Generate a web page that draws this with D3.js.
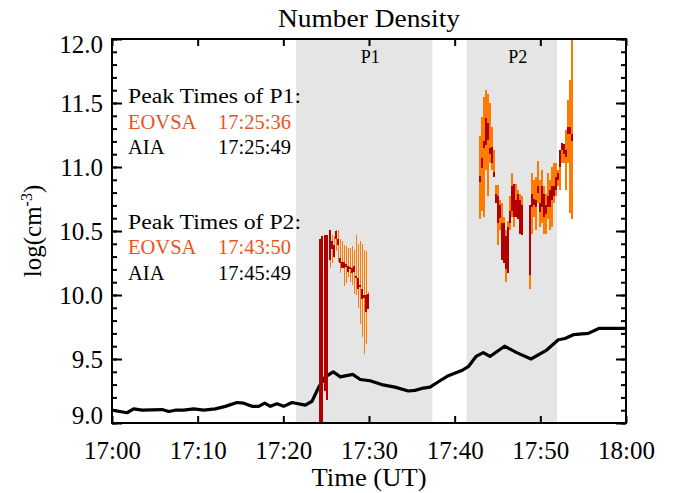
<!DOCTYPE html>
<html>
<head>
<meta charset="utf-8">
<script src="https://cdn.jsdelivr.net/npm/d3@7"></script>
<style>
  body { margin: 0; background: #fff; }
  svg { display: block; }
  text { font-family: "Liberation Serif", "Times New Roman", serif; fill: #000; }
</style>
</head>
<body>
<div id="chart"></div>
<script>
// minutes after 17:00 UT
const aiaMin = [0, 1.75, 2.53, 3.5, 5.84, 6.62, 7.39, 8.37, 9.54, 10.7, 12.06, 13.23, 14.59,
  15.37, 16.34, 17.12, 17.82, 18.48, 19.26, 20.04, 21.01, 22.56, 23.35, 24.13, 24.9, 25.82,
  26.65, 28.1, 28.98, 30.12, 31.48, 33.03, 34.59, 35.37, 36.15, 37.12, 38.29, 39.26, 40.82,
  41.59, 42.49, 43.34, 44.12, 45.82, 47.24, 48.91, 50.74, 52.1, 52.88, 53.85, 55.6, 56.88, 60];
const aiaLogN = [9.10, 9.08, 9.11, 9.10, 9.105, 9.09, 9.10, 9.10, 9.11, 9.10, 9.11, 9.13, 9.16,
  9.155, 9.13, 9.13, 9.155, 9.13, 9.15, 9.13, 9.16, 9.14, 9.17, 9.28, 9.36, 9.40,
  9.36, 9.38, 9.34, 9.33, 9.30, 9.28, 9.25, 9.255, 9.27, 9.28, 9.33, 9.37, 9.41,
  9.44, 9.52, 9.55, 9.52, 9.60, 9.55, 9.50, 9.57, 9.65, 9.66, 9.69, 9.70, 9.74, 9.74];

const eovsaMin = [24.32, 24.55, 24.86, 25.10, 25.49, 25.72, 25.95, 26.19, 26.42, 26.65, 26.89,
  27.12, 27.35, 27.59, 27.82, 28.05, 28.29, 28.52, 28.75, 28.99, 29.22, 29.45, 29.69, 29.92,
  42.96, 43.19, 43.42, 43.66, 43.89, 44.12, 44.36, 44.59, 44.82, 45.06, 45.29, 45.52, 45.76,
  45.99, 46.22, 46.46, 46.69, 46.92, 47.16, 47.39, 47.62, 47.86,
  48.79, 49.02, 49.26, 49.49, 49.72, 49.96, 50.19, 50.42, 50.66, 50.89, 51.13, 51.36, 51.59,
  51.83, 52.06, 52.29, 52.53, 52.76, 52.99, 53.23, 53.46, 53.69];
// outer range (orange)
const eovsaHi = [10.00, 10.05, 10.12, 10.10, 10.45, 10.47, 10.46, 10.51, 10.51, 10.44, 10.42,
  10.39, 10.38, 10.37, 10.37, 10.38, 10.35, 10.47, 10.40, 10.42, 10.40, 10.35, 10.34, 10.02,
  11.24, 11.39, 11.55, 11.60, 11.57, 11.50, 11.31, 11.13, 10.86, 10.86, 10.74, 10.72, 10.61,
  10.51, 10.58, 10.77, 10.95, 10.79, 10.87, 10.82, 10.79, 10.77,
  10.30, 10.95, 10.90, 10.92, 11.05, 10.90, 10.98, 10.85, 10.79, 10.95, 10.90, 11.00, 11.03,
  11.03, 10.98, 11.08, 11.16, 11.16, 11.29, 11.52, 11.68, 12.05];
const eovsaLo = [9.90, 9.95, 10.08, 10.05, 10.21, 10.25, 10.29, 10.34, 10.26, 10.17, 10.21,
  10.07, 10.09, 10.14, 10.10, 10.08, 10.01, 10.00, 9.90, 9.77, 9.67, 9.54, 9.62, 9.93,
  10.59, 10.66, 10.61, 10.98, 10.77, 11.03, 10.98, 10.95, 10.72, 10.39, 10.51, 10.46, 10.38,
  10.10, 10.30, 10.51, 10.61, 10.53, 10.66, 10.64, 10.64, 10.61,
  10.05, 10.48, 10.61, 10.51, 10.72, 10.53, 10.56, 10.48, 10.48, 10.59, 10.51, 10.53, 10.72,
  10.77, 10.85, 10.82, 11.03, 11.03, 10.82, 11.03, 10.64, 10.59];
// inner range (dark red)
const coreHi = [10.44, 10.46, 10.47, 10.47, 10.51, 10.42, 10.39, 10.50, 10.44, 10.29, 10.26,
  10.26, 10.24, 10.23, 10.22, 10.21, 10.23, 10.15, 10.13, 10.08, 10.05, 10.00, 10.00, 10.01,
  10.93, 11.07, 11.20, 11.38, 11.34, 11.15, 11.16, 10.96, 10.79, 10.77, 10.70, 10.56, 10.56,
  10.46, 10.53, 10.66, 10.85, 10.87, 10.74, 10.79, 10.74, 10.70,
  10.70, 10.79, 10.75, 10.74, 10.85, 10.72, 10.85, 10.79, 10.70, 10.77, 10.82, 10.85, 10.85,
  10.92, 10.95, 11.13, 11.19, 11.18, 11.13, 11.31, 11.31, 11.26];
const coreLo = [8.98, 9.00, 9.25, 9.18, 10.27, 10.36, 10.30, 10.44, 10.39, 10.25, 10.21,
  10.21, 10.22, 10.18, 10.20, 10.17, 10.18, 10.13, 10.05, 10.06, 9.97, 9.98, 9.87, 9.89,
  10.88, 10.99, 11.15, 11.17, 11.21, 11.10, 11.03, 10.92, 10.72, 10.56, 10.60, 10.27, 10.25,
  10.20, 10.17, 10.56, 10.66, 10.61, 10.61, 10.59, 10.48, 10.47,
  10.16, 10.69, 10.70, 10.69, 10.80, 10.65, 10.69, 10.61, 10.63, 10.69, 10.69, 10.74, 10.77,
  10.82, 10.90, 11.00, 11.13, 11.10, 11.08, 11.26, 11.26, 11.20];

const periodNames = ['P1', 'P2'];
const periodStart = [21.5, 41.4];
const periodEnd = [37.4, 51.95];

const peakTitles = ['Peak Times of P1:', 'Peak Times of P2:'];
const eovsaPeaks = ['17:25:36', '17:43:50'];
const aiaPeaks = ['17:25:49', '17:45:49'];

const W = 673, H = 493;
const plotL = 112, plotR = 626, plotT = 39, plotB = 423;
const orange = '#ff7a00', darkRed = '#b00000', labelOrange = '#e8541c';

const t0 = Date.UTC(2017, 8, 10, 17, 0, 0);
let toDate = function(m) {
  return new Date(t0 + m * 60000);
};

const x = d3.scaleUtc()
  .domain([toDate(0), toDate(60)])
  .range([plotL, plotR]);
const y = d3.scaleLinear()
  .domain([9, 12])
  .range([plotB, plotT]);

const svg = d3.select('#chart').append('svg')
  .attr('width', W)
  .attr('height', H);

svg.append('clipPath').attr('id', 'plotClip')
  .append('rect')
  .attr('x', plotL).attr('y', plotT)
  .attr('width', plotR - plotL).attr('height', plotB - plotT);

// shaded periods
svg.selectAll('rect.period')
  .data(periodNames)
  .enter()
  .append('rect')
  .attr('class', 'period')
  .attr('x', function(d, i) { return x(toDate(periodStart[i])); })
  .attr('y', plotT)
  .attr('width', function(d, i) {
    return x(toDate(periodEnd[i])) - x(toDate(periodStart[i]));
  })
  .attr('height', plotB - plotT)
  .style('fill', '#e5e5e5');

// labels sit a little right of the band centre
svg.selectAll('text.period')
  .data(periodNames)
  .enter()
  .append('text')
  .attr('class', 'period')
  .attr('x', function(d, i) {
    return (x(toDate(periodStart[i])) + x(toDate(periodEnd[i]))) / 2 + 6;
  })
  .attr('y', 63)
  .attr('text-anchor', 'middle')
  .style('font-size', '18px')
  .text(function(d) { return d; });

const plot = svg.append('g').attr('clip-path', 'url(#plotClip)');

// AIA curve
const aia = aiaMin.map(function(m, i) { return {t: toDate(m), v: aiaLogN[i]}; });
plot.append('path')
  .datum(aia)
  .attr('d', d3.line()
    .x(function(d) { return x(d.t); })
    .y(function(d) { return y(d.v); }))
  .style('fill', 'none')
  .style('stroke', '#000')
  .style('stroke-width', 3.2)
  .style('stroke-linejoin', 'round');

// EOVSA ranges
const eovsa = eovsaMin.map(function(m, i) {
  return {t: toDate(m), hi: eovsaHi[i], lo: eovsaLo[i], cHi: coreHi[i], cLo: coreLo[i]};
});
plot.selectAll('line.outer')
  .data(eovsa)
  .enter()
  .append('line')
  .attr('class', 'outer')
  .attr('x1', function(d) { return x(d.t); })
  .attr('x2', function(d) { return x(d.t); })
  .attr('y1', function(d) { return y(d.hi); })
  .attr('y2', function(d) { return y(d.lo); })
  .style('stroke', orange)
  .style('stroke-width', 1.5)
  .style('shape-rendering', 'crispEdges');
plot.selectAll('line.core')
  .data(eovsa)
  .enter()
  .append('line')
  .attr('class', 'core')
  .attr('x1', function(d) { return x(d.t); })
  .attr('x2', function(d) { return x(d.t); })
  .attr('y1', function(d) { return y(d.cHi); })
  .attr('y2', function(d) { return y(d.cLo); })
  .style('stroke', darkRed)
  .style('stroke-width', 2)
  .style('shape-rendering', 'crispEdges');

// axes, ticks point inward on all four sides
const yMajor = d3.range(9, 12.001, 0.5);
const yMinor = d3.range(9, 12.001, 0.1);
const xTicks = d3.range(0, 61, 10).map(toDate);

let drawAxis = function(axis, tx, ty) {
  let g = svg.append('g')
    .attr('transform', 'translate(' + tx + ',' + ty + ')')
    .call(axis);
  g.select('.domain').remove();
  g.selectAll('line').style('stroke', '#000').style('stroke-width', 2);
  g.attr('font-family', null).attr('font-size', null);
  g.selectAll('text').style('font-size', '25px');
  return g;
};

const yLeft = drawAxis(d3.axisLeft(y).tickValues(yMajor).tickSize(-10).tickPadding(9)
  .tickFormat(d3.format('.1f')), plotL, 0);
yLeft.selectAll('text')
  .attr('dy', function(d) {
    if (d === 12) return '0.55em';
    if (d === 9) return '0.0em';
    return '0.32em';
  });
drawAxis(d3.axisLeft(y).tickValues(yMinor).tickSize(-5).tickFormat(''), plotL, 0);
drawAxis(d3.axisRight(y).tickValues(yMajor).tickSize(-10).tickFormat(''), plotR, 0);
drawAxis(d3.axisRight(y).tickValues(yMinor).tickSize(-5).tickFormat(''), plotR, 0);
drawAxis(d3.axisBottom(x).tickValues(xTicks).tickSize(-7).tickPadding(18)
  .tickFormat(d3.utcFormat('%H:%M')), 0, plotB);
drawAxis(d3.axisTop(x).tickValues(xTicks).tickSize(-7).tickFormat(''), 0, plotT);

svg.append('rect')
  .attr('x', plotL).attr('y', plotT)
  .attr('width', plotR - plotL).attr('height', plotB - plotT)
  .style('fill', 'none')
  .style('stroke', '#000')
  .style('stroke-width', 2);

// titles
svg.append('text')
  .attr('x', (plotL + plotR) / 2)
  .attr('y', 27)
  .attr('text-anchor', 'middle')
  .attr('textLength', 182)
  .attr('lengthAdjust', 'spacingAndGlyphs')
  .style('font-size', '25px')
  .text('Number Density');

svg.append('text')
  .attr('x', (plotL + plotR) / 2)
  .attr('y', 486)
  .attr('text-anchor', 'middle')
  .attr('textLength', 115)
  .attr('lengthAdjust', 'spacingAndGlyphs')
  .style('font-size', '25px')
  .text('Time (UT)');

const yTitle = svg.append('text')
  .attr('transform', 'translate(41,' + ((plotT + plotB) / 2) + ') rotate(-90)')
  .attr('text-anchor', 'middle')
  .style('font-size', '25px');
yTitle.append('tspan').text('log(cm');
yTitle.append('tspan').attr('dy', -9).style('font-size', '16px').text('-3');
yTitle.append('tspan').attr('dy', 9).text(')');

// peak time annotations
const blockY = [103, 228.5];
peakTitles.forEach(function(title, i) {
  let g = svg.append('g').style('font-size', '20.5px');
  g.append('text')
    .attr('x', 128).attr('y', blockY[i])
    .attr('textLength', 173)
    .attr('lengthAdjust', 'spacingAndGlyphs')
    .text(title);
  g.append('text')
    .attr('x', 128).attr('y', blockY[i] + 25.5)
    .style('fill', labelOrange)
    .text('EOVSA');
  g.append('text')
    .attr('x', 218).attr('y', blockY[i] + 25.5)
    .style('fill', labelOrange)
    .text(eovsaPeaks[i]);
  g.append('text')
    .attr('x', 128).attr('y', blockY[i] + 51)
    .text('AIA');
  g.append('text')
    .attr('x', 218).attr('y', blockY[i] + 51)
    .text(aiaPeaks[i]);
});
</script>
</body>
</html>
